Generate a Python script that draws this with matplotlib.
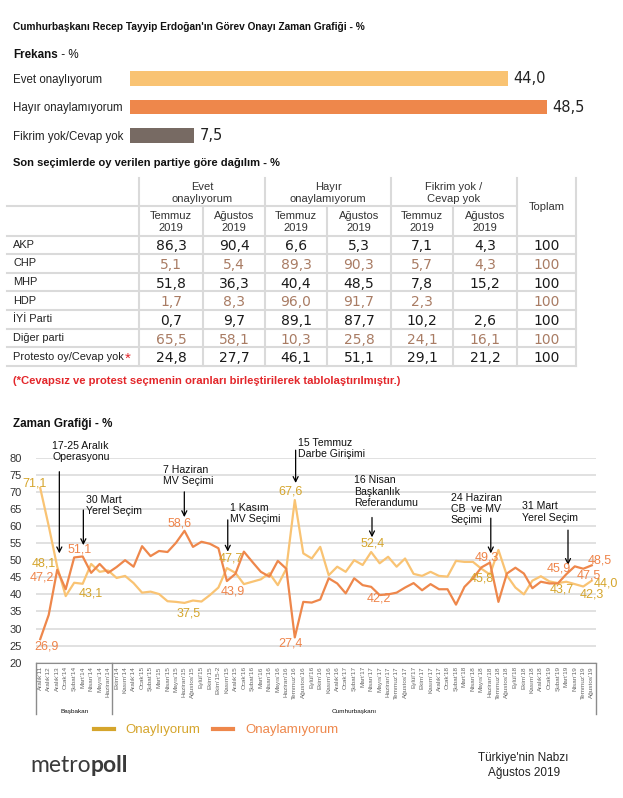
import matplotlib.pyplot as plt
from matplotlib import font_manager
from matplotlib.lines import Line2D

# pick a condensed face when available
installed = {f.name for f in font_manager.fontManager.ttflist}
NARROW = 'Liberation Sans Narrow' if 'Liberation Sans Narrow' in installed else 'Liberation Sans'
NK = 1.0 if NARROW == 'Liberation Sans Narrow' else 0.84
plt.rcParams['font.family'] = ['Liberation Sans', 'DejaVu Sans']

# ---- data: frequency bars
freq_labels = ['Evet onaylıyorum', 'Hayır onaylamıyorum', 'Fikrim yok/Cevap yok']
freq_values = [44.0, 48.5, 7.5]

# ---- data: table by party
parties = ['AKP', 'CHP', 'MHP', 'HDP', 'İYİ Parti', 'Diğer parti', 'Protesto oy/Cevap yok']
answer_groups = ['Evet\nonaylıyorum', 'Hayır\nonaylamıyorum', 'Fikrim yok /\nCevap yok']
periods = ['Temmuz\n2019', 'Ağustos\n2019']
evet_tem = [86.3, 5.1, 51.8, 1.7, 0.7, 65.5, 24.8]
evet_agu = [90.4, 5.4, 36.3, 8.3, 9.7, 58.1, 27.7]
hayir_tem = [6.6, 89.3, 40.4, 96.0, 89.1, 10.3, 46.1]
hayir_agu = [5.3, 90.3, 48.5, 91.7, 87.7, 25.8, 51.1]
fikrim_tem = [7.1, 5.7, 7.8, 2.3, 10.2, 24.1, 29.1]
fikrim_agu = [4.3, 4.3, 15.2, None, 2.6, 16.1, 21.2]
toplam = [100, 100, 100, 100, 100, 100, 100]

# ---- data: time series
months = ["Aralık'11", "Aralık'12", "Aralık'13", "Ocak'14", "Şubat'14", "Mart'14", "Nisan'14",
          "Mayıs'14", "Haziran'14", "Ekim'14", "Kasım'14", "Aralık'14", "Ocak'15", "Şubat'15",
          "Mart'15", "Nisan'15", "Mayıs'15", "Haziran'15", "Ağustos'15", "Eylül'15", "Ekim'15",
          "Ekim'15-2", "Kasım'15", "Aralık'15", "Ocak'16", "Şubat'16", "Mart'16", "Nisan'16",
          "Mayıs'16", "Haziran'16", "Temmuz'16", "Ağustos'16", "Eylül'16", "Ekim'16", "Kasım'16",
          "Aralık'16", "Ocak'17", "Şubat'17", "Mart'17", "Nisan'17", "Mayıs'17", "Haziran'17",
          "Temmuz'17", "Ağustos'17", "Eylül'17", "Ekim'17", "Kasım'17", "Aralık'17", "Ocak'18",
          "Şubat'18", "Mart'18", "Nisan'18", "Mayıs'18", "Haziran'18", "Temmuz'18", "Ağustos'18",
          "Eylül'18", "Ekim'18", "Kasım'18", "Aralık'18", "Ocak'19", "Şubat'19", "Mart'19",
          "Nisan'19", "Temmuz'19", "Ağustos'19"]
approve = [71.1, 60.0, 48.1, 39.5, 43.4, 43.1, 48.9, 46.6, 47.0, 44.8,
           45.4, 43.3, 40.5, 40.8, 40.1, 38.0, 37.8, 37.5, 38.2, 37.9,
           39.8, 42.0, 47.7, 46.3, 43.0, 43.7, 44.4, 46.2, 42.7, 47.5,
           67.6, 52.0, 50.5, 53.9, 45.6, 48.1, 46.6, 50.0, 48.6, 52.4,
           49.1, 51.0, 48.1, 50.5, 46.0, 45.4, 46.6, 45.4, 45.2, 49.8,
           49.5, 49.5, 47.5, 45.8, 53.0, 45.5, 42.0, 40.0, 44.0, 45.3,
           43.8, 43.3, 43.7, 43.0, 42.3, 44.0]
disapprove = [26.9, 34.0, 47.2, 41.5, 50.8, 51.1, 46.3, 48.9, 46.3, 48.0,
              50.0, 48.1, 54.1, 51.2, 52.7, 52.4, 55.1, 58.6, 53.9, 55.4,
              54.8, 53.5, 43.9, 46.0, 52.5, 49.5, 46.6, 45.2, 49.8, 47.5,
              27.4, 37.8, 37.6, 38.5, 44.7, 43.2, 40.3, 44.7, 42.7, 42.2,
              39.8, 40.0, 40.5, 42.0, 43.3, 41.2, 43.0, 41.5, 41.5, 37.0,
              42.2, 44.7, 47.9, 49.3, 37.8, 46.1, 47.8, 46.1, 41.8, 43.7,
              43.2, 43.2, 45.9, 48.2, 47.5, 48.5]
offices = ['Başbakan', 'Cumhurbaşkanı']
office_counts = [9, 57]
event_idx = [2, 5, 17, 22, 30, 39, 53, 62]
event_text = ['17-25 Aralık\nOperasyonu', '30 Mart\nYerel Seçim', '7 Haziran\nMV Seçimi',
              '1 Kasım\nMV Seçimi', '15 Temmuz\nDarbe Girişimi', '16 Nisan\nBaşkanlık\nReferandumu',
              '24 Haziran\nCB  ve MV\nSeçimi', '31 Mart\nYerel Seçim']

# ---- styling / placement
C_YES = '#F9C373'
C_NO = '#EE874B'
C_NA = '#776A63'
C_YES_TXT = '#D5A52C'
C_NO_TXT = '#EF844A'
C_BROWN = '#A97C64'
C_GRID = '#DADADA'
# arrow dx, arrow y from, arrow y to, text dx, text top (data units)
event_style = [(0.25, 75.9, 52.0, -0.6, 84.8), (0.08, 64.7, 54.4, 0.4, 69.0),
               (-0.02, 70.0, 62.6, -2.56, 77.8), (0.1, 61.8, 52.5, 0.37, 66.7),
               (0.1, 82.2, 72.6, 0.35, 85.7), (0.1, 62.5, 56.7, -2.0, 74.8),
               (0.1, 62.3, 52.0, -4.6, 69.7), (0.2, 58.8, 48.6, -5.25, 67.2)]
# which labelled point: (series, index, dx px, dy px)
point_labels = [('y', 0, -6, 5), ('y', 2, -13, 3), ('y', 5, 8, -9.5), ('y', 17, 4.5, -11),
                ('y', 22, 4, 10), ('y', 30, -4, 9), ('y', 39, 1.5, 8), ('y', 53, -8, -4),
                ('y', 62, -4, -8), ('y', 64, 8.7, -7.5), ('y', 65, 14, -2.6),
                ('n', 0, 6.5, -7.6), ('n', 2, -15.5, -7.5), ('n', 5, -2.6, 7), ('n', 17, -5.4, 7.5),
                ('n', 22, 5.6, -10.7), ('n', 30, -4, -6), ('n', 39, 8, -11.5), ('n', 53, -3.4, 5.3),
                ('n', 62, -7.3, 5.9), ('n', 64, 5.7, -6.3), ('n', 65, 8.2, 4.5)]

W, H = 623, 798


def rect(x0, y0, x1, y1):
    return [x0 / W, 1 - y1 / H, (x1 - x0) / W, (y1 - y0) / H]


def fmt(v):
    return f'{v:.1f}'.replace('.', ',')


fig = plt.figure(figsize=(W / 100, H / 100), dpi=100)
bg = fig.add_axes([0, 0, 1, 1])
bg.set_xlim(0, W)
bg.set_ylim(H, 0)
bg.axis('off')

bg.text(13, 27, "Cumhurbaşkanı Recep Tayyip Erdoğan'ın Görev Onayı Zaman Grafiği - %",
        family=NARROW, fontsize=8.7 * NK, weight='bold', va='center', color='#111')
frek = bg.text(13, 55, 'Frekans', family=NARROW, fontsize=10 * NK, weight='bold',
               va='center', color='#111')
bg.annotate(' - %', xy=(1, 0.5), xycoords=frek, family=NARROW, fontsize=10 * NK,
            va='center', ha='left', color='#111')

# ---- frequency bars
axb = fig.add_axes(rect(130, 64.25, 602.5, 149.75))
yb = list(range(len(freq_labels)))
axb.barh(yb, freq_values, height=0.52, color=[C_YES, C_NO, C_NA])
axb.set_xlim(0, 55)
axb.set_ylim(len(freq_labels) - 0.5, -0.5)
for y, v in zip(yb, freq_values):
    axb.text(v + 0.6, y, fmt(v), va='center', ha='left', fontsize=10.5,
             family='DejaVu Sans', color='#222')
axb.set_yticks(yb, freq_labels)
axb.tick_params(axis='y', length=0, pad=84.2, labelsize=8.3, labelcolor='#222')
for t in axb.get_yticklabels():
    t.set_ha('left')
axb.set_xticks([])
for s in axb.spines.values():
    s.set_visible(False)

# ---- table
bg.text(13, 163, 'Son seçimlerde oy verilen partiye göre dağılım - %', family=NARROW,
        fontsize=9.5 * NK, weight='bold', va='center', color='#111')
col_x = [139, 203, 265, 327, 391, 453, 517, 576]
top, mid, head_bot, row_h = 178, 206, 235.5, 18.65
n_rows = len(parties)
bottom = head_bot + n_rows * row_h
for k in range(n_rows + 1):
    yy = head_bot + k * row_h
    bg.plot([7, col_x[-1]], [yy, yy], color=C_GRID, lw=1.5)
bg.plot([7, col_x[6]], [mid, mid], color=C_GRID, lw=1.5)
for i, xx in enumerate(col_x):
    y0 = top if i % 2 == 0 or i == 7 else mid
    bg.plot([xx, xx], [y0, bottom], color=C_GRID, lw=1.5)
for g, name in enumerate(answer_groups):
    cx = (col_x[2 * g] + col_x[2 * g + 2]) / 2
    bg.text(cx, 193, name, ha='center', va='center', fontsize=8, color='#333', linespacing=1.3)
    for p, per in enumerate(periods):
        px = (col_x[2 * g + p] + col_x[2 * g + p + 1]) / 2
        bg.text(px, 222, per, ha='center', va='center', fontsize=8, color='#333', linespacing=1.3)
bg.text((col_x[6] + col_x[7]) / 2, 207, 'Toplam', ha='center', va='center', fontsize=8, color='#333')
columns = [evet_tem, evet_agu, hayir_tem, hayir_agu, fikrim_tem, fikrim_agu, toplam]
row_txt = None
for r, party in enumerate(parties):
    cy = head_bot + (r + 0.5) * row_h
    col = C_BROWN if r % 2 == 1 else '#1A1A1A'
    row_txt = bg.text(13, cy, party, va='center', fontsize=7.9, color='#222')
    for c, vals in enumerate(columns):
        v = vals[r]
        if v is None:
            continue
        s = str(v) if isinstance(v, int) else fmt(v)
        bg.text((col_x[c] + col_x[c + 1]) / 2, cy + 1.5, s, ha='center', va='center',
                fontsize=10, family='DejaVu Sans', color=col)
# red asterisk right after the last row label
bg.annotate('*', xy=(1, 1), xycoords=row_txt, xytext=(1, 0), textcoords='offset points',
            color='#E3262A', fontsize=11, va='top', ha='left')
bg.text(13, 381, '(*Cevapsız ve protest seçmenin oranları birleştirilerek tablolaştırılmıştır.)',
        family=NARROW, fontsize=9.6 * NK, weight='bold', color='#E3262A', va='center')

# ---- time chart
bg.text(13, 424, 'Zaman Grafiği - %', family=NARROW, fontsize=10 * NK, weight='bold',
        va='center', color='#111')
ax = fig.add_axes(rect(36, 457.7, 596, 662.7))
x = list(range(len(months)))
ax.plot(x, approve, color=C_YES, lw=1.6, zorder=3)
ax.plot(x, disapprove, color=C_NO, lw=1.6, zorder=3)
ax.set_xlim(-0.5, len(months) - 0.5)
ax.set_ylim(20, 80)
ax.set_yticks(range(20, 81, 5))
ax.yaxis.grid(True, color='#D9D9D9', lw=1.1)
ax.set_axisbelow(True)
ax.tick_params(axis='y', length=0, pad=10, labelsize=8, labelcolor='#333')
ax.set_xticks(x, months, rotation=90, fontsize=4.6, color='#666')
ax.tick_params(axis='x', length=0, pad=2.5)
for s in ['top', 'right', 'left']:
    ax.spines[s].set_visible(False)
ax.spines['bottom'].set_color('#8C8C8C')

tr = ax.get_xaxis_transform()
edges = [-0.5]
for n in office_counts:
    edges.append(edges[-1] + n)
for xv in edges:
    ax.plot([xv, xv], [0, -0.25], transform=tr, color='#8C8C8C', lw=1, clip_on=False)
for name, a, b in zip(offices, edges[:-1], edges[1:]):
    ax.text((a + b) / 2, -0.236, name, transform=tr, ha='center', va='center',
            fontsize=4.6, color='#111', clip_on=False)

series = {'y': (approve, C_YES_TXT), 'n': (disapprove, C_NO_TXT)}
for key, i, dx, dy in point_labels:
    vals, col = series[key]
    ax.annotate(fmt(vals[i]), (i, vals[i]), xytext=(dx, dy), textcoords='offset pixels',
                ha='center', va='center', fontsize=9, color=col, zorder=5, annotation_clip=False)

for i, txt, (adx, y0, y1, tdx, ttop) in zip(event_idx, event_text, event_style):
    ax.annotate('', xy=(i + adx, y1), xytext=(i + adx, y0), annotation_clip=False,
                arrowprops=dict(arrowstyle='->', lw=0.9, color='black', mutation_scale=9,
                                shrinkA=0, shrinkB=0))
    ax.text(i + tdx, ttop, txt, ha='left', va='top', fontsize=9 * NK, family=NARROW,
            linespacing=1.15, color='#111', clip_on=False)

handles = [Line2D([], [], color=C_YES_TXT, lw=3), Line2D([], [], color=C_NO, lw=3)]
fig.legend(handles, ['Onaylıyorum', 'Onaylamıyorum'], loc='center',
           bbox_to_anchor=(216 / W, 1 - 730 / H), ncol=2, frameon=False, fontsize=9.5,
           handlelength=1.5, handletextpad=0.9, columnspacing=1.0, labelcolor='linecolor')

# ---- footer
logo = bg.text(30, 765, 'metro', family='Lato', fontsize=16.5, color='#3A3A3A', va='center')
bg.annotate('poll', xy=(1, 0.5), xycoords=logo, family='Lato', fontsize=16.5, weight='bold',
            color='#3A3A3A', va='center', ha='left')
bg.text(523, 758, "Türkiye'nin Nabzı", fontsize=8.5, color='#222', ha='center', va='center')
bg.text(524, 773, 'Ağustos 2019', fontsize=8.5, color='#222', ha='center', va='center')

fig.savefig('out.png', dpi=100)
